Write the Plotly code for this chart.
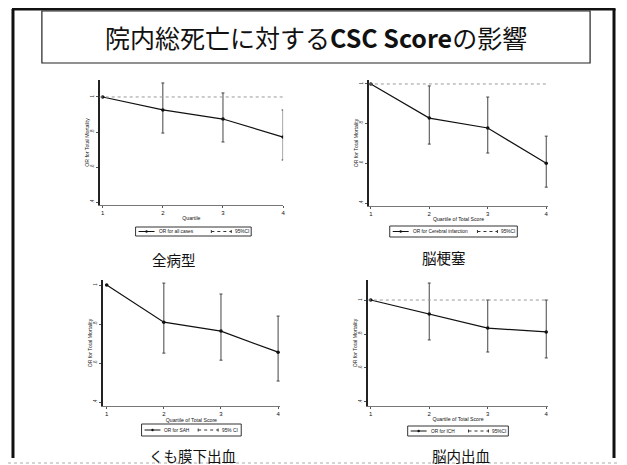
import plotly.graph_objects as go

# page body has an 8px default margin; figure is sized/offset to compensate
OFF = 8
W, H = 611, 457

quartiles = [1, 2, 3, 4]

# Odds ratios and 95% CI
or_all = [1.0, 0.926, 0.874, 0.771]
ci_all_hi = [1.0, 1.08, 1.023, 0.926]
ci_all_lo = [1.0, 0.794, 0.743, 0.640]

or_ci = [1.0, 0.828, 0.778, 0.600]
ci_ci_hi = [1.0, 0.990, 0.934, 0.737]
ci_ci_lo = [1.0, 0.697, 0.652, 0.480]

or_sah = [1.0, 0.810, 0.764, 0.656]
ci_sah_hi = [1.0, 1.010, 0.954, 0.841]
ci_sah_lo = [1.0, 0.651, 0.615, 0.508]

or_ich = [1.0, 0.918, 0.835, 0.812]
ci_ich_hi = [1.0, 1.100, 1.000, 1.000]
ci_ich_lo = [1.0, 0.765, 0.694, 0.659]

y_ticks = [1, 0.8, 0.6, 0.4]
y_tick_labels = ["1", ".8", ".6", ".4"]

panels = [
    dict(orv=or_all, hi=ci_all_hi, lo=ci_all_lo, xt="Quartile", leg="OR for all cases", ci="95%CI",
         caption="全病型", px=(100, 284), py=(80, 205), xr=[0.95, 4.0], yr=[0.383, 1.097],
         legbox=(136, 252, 227, 236), cap=(175, 259), refline=True),
    dict(orv=or_ci, hi=ci_ci_hi, lo=ci_ci_lo, xt="Quartile of Total Score", leg="OR for Cerebral infarction", ci="95%CI",
         caption="脳梗塞", px=(370, 550), py=(80, 206), xr=[0.966, 4.034], yr=[0.385, 1.02],
         legbox=(391, 519, 226, 237), cap=(445, 258), refline=True),
    dict(orv=or_sah, hi=ci_sah_hi, lo=ci_sah_lo, xt="Quartile of Total Score", leg="OR for SAH", ci="95% CI",
         caption="くも膜下出血", px=(103, 281), py=(280, 406), xr=[0.93, 4.035], yr=[0.38, 1.026],
         legbox=(142, 242, 424, 436), cap=(193, 455), refline=False),
    dict(orv=or_ich, hi=ci_ich_hi, lo=ci_ich_lo, xt="Quartile of Total Score", leg="OR for ICH", ci="95%CI",
         caption="脳内出血", px=(369, 550), py=(280, 406), xr=[0.95, 4.034], yr=[0.376, 1.118],
         legbox=(409, 510, 426, 436), cap=(462, 455), refline=True),
]

def fx(p):
    return (p - OFF) / W

def fy(p):
    return 1 - (p - OFF) / H

fig = go.Figure()
shapes = []
annotations = []
FONT = "Liberation Sans, Arial, sans-serif"
JP = "Noto Sans CJK JP"

for i, p in enumerate(panels):
    n = i + 1
    xa = "x" if n == 1 else f"x{n}"
    ya = "y" if n == 1 else f"y{n}"
    err_plus = [h - o for h, o in zip(p["hi"], p["orv"])]
    err_minus = [o - l for o, l in zip(p["orv"], p["lo"])]
    fig.add_trace(go.Scatter(
        x=quartiles, y=p["orv"], mode="lines+markers", xaxis=xa, yaxis=ya,
        line=dict(color="#111", width=1.2), marker=dict(size=3.5, color="#111"),
        error_y=dict(type="data", array=err_plus, arrayminus=err_minus, visible=True,
                     color="#444", thickness=1, width=1.5),
        showlegend=False, hoverinfo="skip"))
    lay_x = dict(domain=[fx(p["px"][0]), fx(p["px"][1])], range=p["xr"], tickvals=quartiles,
                 ticktext=[str(q) for q in quartiles], showgrid=False, zeroline=False,
                 showline=True, linecolor="#777", linewidth=1, ticks="outside", ticklen=2,
                 tickcolor="#555", tickfont=dict(size=6, family=FONT, color="#111"),
                 title=dict(text=p["xt"], font=dict(size=5.2, family=FONT, color="#111"), standoff=1),
                 anchor=ya, fixedrange=True)
    lay_y = dict(domain=[fy(p["py"][1]), fy(p["py"][0])], range=p["yr"], tickvals=y_ticks,
                 ticktext=y_tick_labels, showgrid=False, zeroline=False,
                 showline=True, linecolor="#222", linewidth=1.6, ticks="outside", ticklen=2,
                 tickcolor="#555", tickfont=dict(size=4.5, family=FONT, color="#333"), tickangle=-90,
                 title=dict(text="OR for Total Mortality", font=dict(size=5.2, family=FONT, color="#111"), standoff=0),
                 anchor=xa, fixedrange=True)
    fig.update_layout(**{("xaxis" if n == 1 else f"xaxis{n}"): lay_x,
                         ("yaxis" if n == 1 else f"yaxis{n}"): lay_y})
    if p["refline"]:
        shapes.append(dict(type="line", xref=f"{xa} domain", yref=ya, x0=0, x1=1, y0=1, y1=1,
                           line=dict(color="#999", width=1, dash="dot")))
    # legend box
    x0, x1, y0, y1 = p["legbox"]
    shapes.append(dict(type="rect", xref="paper", yref="paper", x0=fx(x0), x1=fx(x1), y0=fy(y1), y1=fy(y0),
                       line=dict(color="#333", width=1), fillcolor="white"))
    ym = (y0 + y1) / 2
    # sample line for OR
    shapes.append(dict(type="line", xref="paper", yref="paper", x0=fx(x0 + 3), x1=fx(x0 + 19),
                       y0=fy(ym), y1=fy(ym), line=dict(color="#111", width=1)))
    shapes.append(dict(type="circle", xref="paper", yref="paper",
                       x0=fx(x0 + 11 - 1.2), x1=fx(x0 + 11 + 1.2),
                       y0=fy(ym + 1.2), y1=fy(ym - 1.2), fillcolor="#111", line=dict(width=0)))
    annotations.append(dict(text=p["leg"], xref="paper", yref="paper", x=fx(x0 + 21), y=fy(ym),
                            xanchor="left", yanchor="middle", showarrow=False,
                            font=dict(size=4.8, family=FONT, color="#111")))
    # sample line for CI (anchored to right edge)
    cx1 = x1 - 4 - len(p["ci"]) * 3.2
    cx0 = cx1 - 20
    shapes.append(dict(type="line", xref="paper", yref="paper", x0=fx(cx0), x1=fx(cx1),
                       y0=fy(ym), y1=fy(ym), line=dict(color="#333", width=1, dash="dot")))
    for cx in (cx0, cx1):
        shapes.append(dict(type="line", xref="paper", yref="paper", x0=fx(cx), x1=fx(cx),
                           y0=fy(ym - 1.5), y1=fy(ym + 1.5), line=dict(color="#333", width=1)))
    annotations.append(dict(text=p["ci"], xref="paper", yref="paper", x=fx(cx1 + 1.5), y=fy(ym),
                            xanchor="left", yanchor="middle", showarrow=False,
                            font=dict(size=4.8, family=FONT, color="#111")))
    # caption
    annotations.append(dict(text=p["caption"], xref="paper", yref="paper", x=fx(p["cap"][0]), y=fy(p["cap"][1]),
                            xanchor="center", yanchor="middle", showarrow=False,
                            font=dict(size=14.5, family=JP, color="#111")))

# outer frame
shapes.append(dict(type="line", xref="paper", yref="paper", x0=fx(13), x1=fx(13), y0=fy(9), y1=fy(458),
                   line=dict(color="#111", width=3)))
shapes.append(dict(type="line", xref="paper", yref="paper", x0=fx(616), x1=fx(616), y0=fy(9), y1=fy(458),
                   line=dict(color="#111", width=3)))
shapes.append(dict(type="line", xref="paper", yref="paper", x0=fx(12), x1=fx(617.5), y0=fy(9), y1=fy(9),
                   line=dict(color="#111", width=3)))
shapes.append(dict(type="line", xref="paper", yref="paper", x0=fx(8), x1=fx(619), y0=fy(463), y1=fy(463),
                   line=dict(color="#aaa", width=1, dash="dot")))
# title box
shapes.append(dict(type="rect", xref="paper", yref="paper", x0=fx(42), x1=fx(592), y0=fy(63), y1=fy(11),
                   line=dict(color="#222", width=1.2)))
annotations.append(dict(text="院内総死亡に対する<b>CSC Score</b>の影響", xref="paper", yref="paper",
                        x=fx(317), y=fy(37), xanchor="center", yanchor="middle", showarrow=False,
                        font=dict(size=25, family=JP, color="#111")))

fig.update_layout(width=W, height=H, margin=dict(l=0, r=0, t=0, b=0),
                  paper_bgcolor="white", plot_bgcolor="white",
                  shapes=shapes, annotations=annotations, showlegend=False)

fig.write_html("out.html", config={"displayModeBar": False})
